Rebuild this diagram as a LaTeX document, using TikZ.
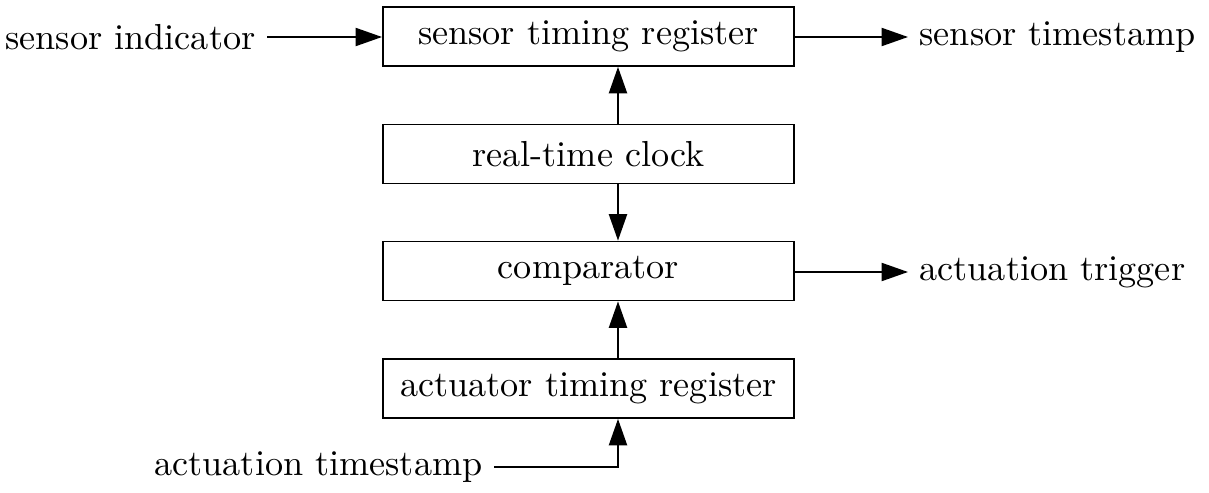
\documentclass[tikz,border=0pt]{standalone}
\usetikzlibrary{arrows.meta}
\begin{document}
\begin{tikzpicture}[x=0.2763pt, y=-0.2763pt,
  blockbox/.style={draw, line width=0.5pt, minimum width=113.6pt, minimum height=16.3pt, inner sep=0pt},
  label/.style={inner sep=3pt},
  flow/.style={line width=0.5pt, -{Triangle[length=7.3pt,width=5pt]}}]
  \useasboundingbox (0,0) rectangle (1209,493);

  % processing blocks
  \node[blockbox] (str) at (588.5,36.5) {sensor timing register};
  \node[blockbox] (rtc) at (588.5,154) {real-time clock};
  \node[blockbox] (cmp) at (588.5,271) {comparator};
  \node[blockbox] (atr) at (588.5,388.5) {actuator timing register};

  % external signals
  \node[label, anchor=east] (si) at (267,37) {sensor indicator};
  \node[label, anchor=west] (sts) at (908,37) {sensor timestamp};
  \node[label, anchor=west] (trg) at (908,272) {actuation trigger};
  \node[label, anchor=east] (ats) at (494,467) {actuation timestamp};

  % vertical signal axis
  \coordinate (ax) at (618,0);

  \draw[flow] (si.east) -- (si.east -| str.west);
  \draw[flow] (sts.west -| str.east) -- (sts.west);
  \draw[flow] (rtc.north -| ax) -- (str.south -| ax);
  \draw[flow] (rtc.south -| ax) -- (cmp.north -| ax);
  \draw[flow] (trg.west -| cmp.east) -- (trg.west);
  \draw[flow] (atr.north -| ax) -- (cmp.south -| ax);
  \draw[flow] (ats.east) -- (ats.east -| ax) -- (atr.south -| ax);
\end{tikzpicture}
\end{document}
